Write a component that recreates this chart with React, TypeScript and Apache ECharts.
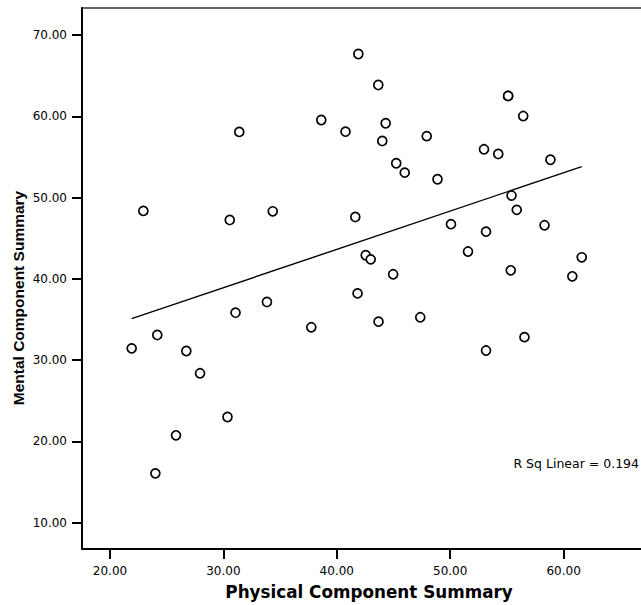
import React, { useEffect, useRef } from "react";
import * as echarts from "echarts";

// Physical Component Summary (x) / Mental Component Summary (y)
const physical = [
  21.91, 22.94, 24.0, 24.17, 25.82, 26.73, 27.94, 30.36, 30.56, 31.07,
  31.4, 33.84, 34.35, 37.75, 38.63, 40.77, 41.63, 41.83, 41.9, 42.55,
  42.99, 43.66, 43.68, 44.01, 44.31, 44.97, 45.24, 45.99, 47.36, 47.93,
  48.88, 50.07, 51.57, 52.98, 53.16, 53.16, 54.24, 55.11, 55.11, 55.34,
  55.41, 55.87, 56.44, 56.55, 58.32, 58.84, 60.77, 61.6,
];
const mental = [
  31.45, 48.35, 16.07, 33.09, 20.75, 31.12, 28.38, 23.0, 47.24, 35.83,
  58.07, 37.15, 48.31, 34.04, 59.54, 58.1, 47.61, 38.2, 67.66, 42.9,
  42.4, 63.85, 34.73, 56.96, 59.14, 40.56, 54.22, 53.06, 35.27, 57.55,
  52.25, 46.72, 43.36, 55.94, 45.8, 31.18, 55.36, 62.5, 62.5, 41.05,
  50.25, 48.49, 60.03, 32.82, 46.59, 54.65, 40.31, 42.65,
];
// Linear fit line end points (x, y)
const fitX = [21.91, 61.6];
const fitY = [35.1, 53.8];
const tickValues = [10, 20, 30, 40, 50, 60, 70];
const xTickValues = [20, 30, 40, 50, 60];
const rSqLabel = "R Sq Linear = 0.194";
const xTitle = "Physical Component Summary";
const yTitle = "Mental Component Summary";

export default function App() {
  const ref = useRef<HTMLDivElement>(null);
  useEffect(() => {
    if (!ref.current) return;
    const chart = echarts.init(ref.current, null, { renderer: "svg" });
    const points = physical.map((x, i) => [x, mental[i]]);
    const fit = fitX.map((x, i) => [x, fitY[i]]);
    const labelFont = {
      fontFamily: "DejaVu Sans",
      fontSize: 12,
      color: "#000",
    };
    chart.setOption({
      animation: false,
      backgroundColor: "#fff",
      grid: {
        left: 82,
        top: 8,
        right: 24,
        bottom: 56,
        show: true,
        borderColor: "#333",
        borderWidth: 1.5,
        backgroundColor: "transparent",
      },
      xAxis: {
        type: "value",
        min: 17.53,
        max: 68.15,
        name: xTitle,
        nameLocation: "middle",
        nameGap: 34,
        nameTextStyle: {
          fontFamily: "DejaVu Sans",
          fontWeight: "bold",
          fontSize: 16.8,
          color: "#000",
        },
        axisLine: { show: true, onZero: false, lineStyle: { color: "#000", width: 2 } },
        axisTick: {
          show: true,
          length: 10,
          inside: false,
          customValues: xTickValues,
          lineStyle: { color: "#000", width: 2 },
        },
        axisLabel: {
          ...labelFont,
          margin: 16,
          customValues: xTickValues,
          formatter: (v: number) => v.toFixed(2),
        },
        splitLine: { show: false },
      },
      yAxis: {
        type: "value",
        min: 6.76,
        max: 73.32,
        axisLine: { show: true, onZero: false, lineStyle: { color: "#000", width: 2 } },
        axisTick: {
          show: true,
          length: 10,
          inside: false,
          customValues: tickValues,
          lineStyle: { color: "#000", width: 2 },
        },
        axisLabel: {
          ...labelFont,
          margin: 15,
          customValues: tickValues,
          formatter: (v: number) => v.toFixed(2),
        },
        splitLine: { show: false },
      },
      graphic: [
        {
          type: "text",
          right: 41,
          top: 457,
          style: {
            text: rSqLabel,
            font: "12.5px 'DejaVu Sans'",
            fill: "#000",
          },
        },
        {
          type: "text",
          x: 18,
          y: 298,
          rotation: Math.PI / 2,
          style: {
            text: yTitle,
            font: "bold 15.5px 'Liberation Sans'",
            fill: "#000",
            align: "center",
            verticalAlign: "middle",
          },
        },
      ],
      series: [
        {
          type: "line",
          data: fit,
          showSymbol: false,
          symbol: "none",
          lineStyle: { color: "#000", width: 1.4 },
          silent: true,
          z: 2,
        },
        {
          type: "scatter",
          data: points,
          symbol: "circle",
          symbolSize: 9,
          itemStyle: { color: "#fff", borderColor: "#000", borderWidth: 1.7, opacity: 1 },
          z: 3,
        },
      ],
    });
    return () => chart.dispose();
  }, []);
  return (
    <div
      ref={ref}
      style={{ position: "fixed", left: 0, top: 0, width: 680, height: 605, background: "#fff" }}
    />
  );
}
